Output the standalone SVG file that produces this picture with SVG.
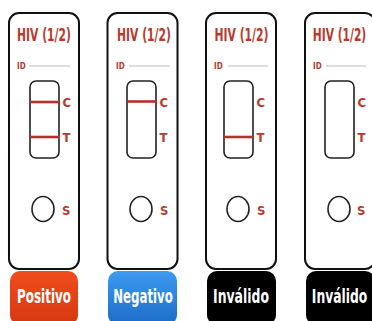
<svg xmlns="http://www.w3.org/2000/svg" width="372" height="321" viewBox="0 0 372 321">
<defs>
<linearGradient id="gPos" x1="0" y1="0" x2="0" y2="1"><stop offset="0" stop-color="#f04d1e"/><stop offset="1" stop-color="#d6380f"/></linearGradient>
<linearGradient id="gNeg" x1="0" y1="0" x2="0" y2="1"><stop offset="0" stop-color="#3d9bf0"/><stop offset="1" stop-color="#1c6cc6"/></linearGradient>
<style>
.card{fill:#fff;stroke:#111;stroke-width:2}
.win{fill:#fff;stroke:#222;stroke-width:1.6}
.hiv{font-family:"DejaVu Sans Condensed","DejaVu Sans",sans-serif;font-weight:bold;font-size:17px;fill:#b93a2b;text-anchor:middle}
.id{font-family:"DejaVu Sans Condensed","DejaVu Sans",sans-serif;font-weight:bold;font-size:8px;fill:#b93a2b}
.idl{stroke:#bbb;stroke-width:1}
.lbl{font-family:"DejaVu Sans Condensed","DejaVu Sans",sans-serif;font-weight:bold;font-size:13px;fill:#b93a2b}
.band{stroke:#b8302a;stroke-width:2.6}
.well{fill:#fff;stroke:#222;stroke-width:1.6}
.res{font-family:"DejaVu Sans Condensed","DejaVu Sans",sans-serif;font-weight:bold;font-size:19px;fill:#fff;text-anchor:middle}
</style>
</defs>
<g id="card-positivo">
<rect class="card" x="9" y="13" width="70" height="256" rx="10"/>
<text class="hiv" transform="translate(44,41) scale(0.706,1)">HIV (1/2)</text>
<text class="id" x="17" y="68.5">ID</text>
<line class="idl" x1="29" y1="66" x2="70" y2="66"/>
<rect class="win" x="30" y="81" width="29" height="77" rx="6"/>
<line class="band" x1="30" y1="102" x2="60" y2="102"/>
<line class="band" x1="30" y1="137" x2="60" y2="137"/>
<text class="lbl" x="62.5" y="107">C</text>
<text class="lbl" x="62.5" y="142">T</text>
<ellipse class="well" cx="43" cy="209" rx="11" ry="12.5"/>
<text class="lbl" x="62" y="215" font-size="12">S</text>
<rect x="10" y="271" width="68" height="54" rx="10" fill="url(#gPos)"/>
<text class="res" transform="translate(44,303) scale(0.70,1)">Positivo</text>
</g>
<g id="card-negativo">
<rect class="card" x="107.5" y="13" width="70" height="256" rx="10"/>
<text class="hiv" transform="translate(144,41) scale(0.706,1)">HIV (1/2)</text>
<text class="id" x="116" y="68.5">ID</text>
<line class="idl" x1="129" y1="66" x2="170" y2="66"/>
<rect class="win" x="127" y="81" width="29" height="77" rx="6"/>
<line class="band" x1="127" y1="101.5" x2="157" y2="101.5"/>
<text class="lbl" x="159.5" y="107">C</text>
<text class="lbl" x="159.5" y="142">T</text>
<ellipse class="well" cx="141" cy="209" rx="11" ry="12.5"/>
<text class="lbl" x="160" y="215" font-size="12">S</text>
<rect x="108" y="271" width="69" height="54" rx="10" fill="url(#gNeg)"/>
<text class="res" transform="translate(143,303) scale(0.69,1)">Negativo</text>
</g>
<g id="card-invalido-1">
<rect class="card" x="206" y="13" width="70" height="256" rx="10"/>
<text class="hiv" transform="translate(241.5,41) scale(0.706,1)">HIV (1/2)</text>
<text class="id" x="214" y="68.5">ID</text>
<line class="idl" x1="228" y1="66" x2="268" y2="66"/>
<rect class="win" x="224" y="81" width="29" height="77" rx="6"/>
<line class="band" x1="224" y1="137" x2="254" y2="137"/>
<text class="lbl" x="256.5" y="107">C</text>
<text class="lbl" x="256.5" y="142">T</text>
<ellipse class="well" cx="238" cy="209" rx="11" ry="12.5"/>
<text class="lbl" x="257" y="215" font-size="12">S</text>
<rect x="207" y="271" width="69" height="54" rx="10" fill="#000"/>
<text class="res" transform="translate(241,303) scale(0.727,1)">Inválido</text>
</g>
<g id="card-invalido-2">
<rect class="card" x="305" y="13" width="70" height="256" rx="10"/>
<text class="hiv" transform="translate(339.5,41) scale(0.70,1)">HIV (1/2)</text>
<text class="id" x="313" y="68.5">ID</text>
<line class="idl" x1="326" y1="66" x2="366" y2="66"/>
<rect class="win" x="325" y="81" width="29" height="77" rx="6"/>
<text class="lbl" x="357.5" y="107">C</text>
<text class="lbl" x="357.5" y="142">T</text>
<ellipse class="well" cx="339" cy="209" rx="11" ry="12.5"/>
<text class="lbl" x="357" y="215" font-size="12">S</text>
<rect x="306" y="271" width="69" height="54" rx="10" fill="#000"/>
<text class="res" transform="translate(339.5,303) scale(0.72,1)">Inválido</text>
</g>
<g id="connectors"/>
</svg>
